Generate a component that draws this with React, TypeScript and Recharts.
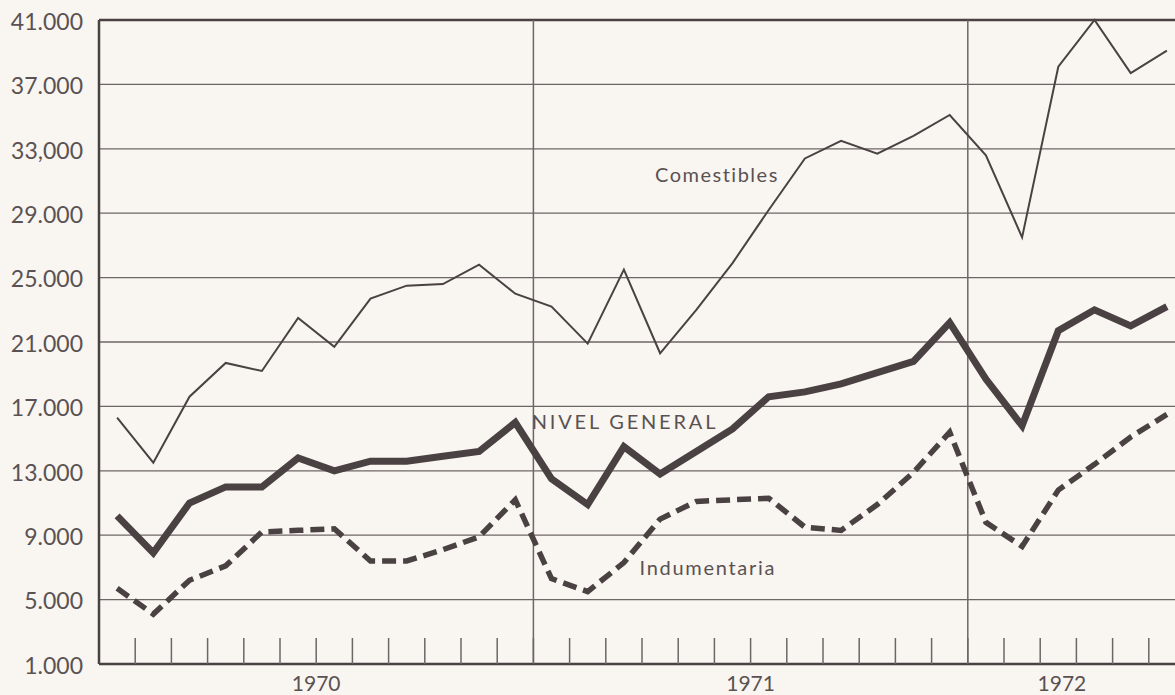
import React from "react"
import {
  CartesianGrid,
  Line,
  LineChart,
  ReferenceDot,
  ReferenceLine,
  XAxis,
  YAxis,
} from "recharts"

// monthly values, Jan 1970 .. Jun 1972
const comestibles = [
  16300, 13500, 17600, 19700, 19200, 22500, 20700, 23700, 24500, 24600, 25800, 24000,
  23200, 20900, 25500, 20300, 23000, 25900, 29200, 32400, 33500, 32700, 33800, 35100,
  32600, 27500, 38100, 41000, 37700, 39100,
]
const nivelGeneral = [
  10200, 7900, 11000, 12000, 12000, 13800, 13000, 13600, 13600, 13900, 14200, 16000,
  12500, 10900, 14500, 12800, 14200, 15600, 17600, 17900, 18400, 19100, 19800, 22200,
  18700, 15800, 21700, 23000, 22000, 23200,
]
const indumentaria = [
  5700, 4100, 6200, 7100, 9200, 9300, 9400, 7400, 7400, 8100, 8900, 11200,
  6300, 5500, 7300, 10000, 11100, 11200, 11300, 9500, 9300, 10900, 12900, 15400,
  9800, 8300, 11800, 13400, 15100, 16500,
]

const yTicks = [1000, 5000, 9000, 13000, 17000, 21000, 25000, 29000, 33000, 37000, 41000]
const yTickLabels = ["1.000", "5.000", "9.000", "13.000", "17.000", "21.000", "25.000", "29.000", "33,000", "37.000", "41.000"]

const yearLabels = ["1970", "1971", "1972"]
const yearTicks = [6, 18, 26.6]
const yearBreaks = [12, 24]
const monthTicks = Array.from({ length: 29 }, (_, i) => i + 1)

const data = comestibles.map((c, i) => ({
  m: i + 0.5,
  comestibles: c,
  nivel: nivelGeneral[i],
  indumentaria: indumentaria[i],
}))

const ink = "#4a4242"
const gridColor = "#6e6666"
const textColor = "#5a5252"
const font = "Lato, 'Open Sans', sans-serif"

const MonthTick = (props: any) => {
  const { x, y } = props
  return <line x1={x} x2={x} y1={y} y2={y - 26} stroke={gridColor} strokeWidth={1.5} />
}

const YearTick = (props: any) => {
  const { x, y, payload } = props
  const label = yearLabels[yearTicks.indexOf(payload.value)]
  return (
    <text x={x} y={y + 26} textAnchor="middle" fill={textColor} fontSize={21} fontFamily={font}>
      {label}
    </text>
  )
}

const YTick = (props: any) => {
  const { x, y, payload } = props
  const label = yTickLabels[yTicks.indexOf(payload.value)]
  return (
    <text x={x} y={y + 4} textAnchor="end" dominantBaseline="middle" fill={textColor} fontSize={23} fontFamily={font}>
      {label}
    </text>
  )
}

const seriesLabel = (text: string, spacing: number) => (props: any) => {
  const { viewBox } = props
  const cx = viewBox.x + viewBox.width / 2
  const cy = viewBox.y + viewBox.height / 2
  return (
    <text x={cx} y={cy} textAnchor="middle" dominantBaseline="middle" fill={textColor} fontSize={20} fontFamily={font} letterSpacing={spacing}>
      {text}
    </text>
  )
}

export default function App() {
  return (
    <div style={{ position: "absolute", left: 0, top: 0, width: 1175, height: 695, overflow: "hidden", background: "#f9f5f1" }}>
      <LineChart width={1200} height={695} data={data} margin={{ top: 20, right: 15, left: 0, bottom: 0 }}>
        <CartesianGrid vertical={false} stroke={gridColor} strokeWidth={1.3} />
        <XAxis
          dataKey="m"
          type="number"
          domain={[0, 30]}
          allowDataOverflow
          ticks={monthTicks}
          interval={0}
          height={1}
          tickSize={0}
          tickMargin={0}
          tickLine={false}
          tick={<MonthTick />}
          axisLine={{ stroke: ink, strokeWidth: 2.5 }}
        />
        <XAxis
          xAxisId="yr"
          dataKey="m"
          type="number"
          domain={[0, 30]}
          allowDataOverflow
          ticks={yearTicks}
          interval={0}
          height={30}
          tickSize={0}
          tickMargin={0}
          tickLine={false}
          axisLine={false}
          tick={<YearTick />}
        />
        <YAxis
          type="number"
          domain={[1000, 41000]}
          ticks={yTicks}
          interval={0}
          width={99}
          tickSize={0}
          tickMargin={16}
          tickLine={false}
          tick={<YTick />}
          axisLine={{ stroke: ink, strokeWidth: 2.5 }}
        />
        <ReferenceLine y={41000} stroke={ink} strokeWidth={2.5} />
        {yearBreaks.map((x) => (
          <ReferenceLine key={x} x={x} stroke={gridColor} strokeWidth={1.5} />
        ))}
        <Line
          dataKey="comestibles"
          type="linear"
          stroke={ink}
          strokeWidth={2}
          dot={false}
          isAnimationActive={false}
        />
        <Line
          dataKey="nivel"
          type="linear"
          stroke={ink}
          strokeWidth={7}
          strokeLinejoin="miter"
          dot={false}
          isAnimationActive={false}
        />
        <Line
          dataKey="indumentaria"
          type="linear"
          stroke={ink}
          strokeWidth={5.5}
          strokeDasharray="14 7"
          dot={false}
          isAnimationActive={false}
        />
        <ReferenceDot x={17.07} y={31270} r={1} fill="none" stroke="none" label={{ content: seriesLabel("Comestibles", 1.5) }} />
        <ReferenceDot x={14.53} y={15880} r={1} fill="none" stroke="none" label={{ content: seriesLabel("NIVEL GENERAL", 2.8) }} />
        <ReferenceDot x={16.82} y={6850} r={1} fill="none" stroke="none" label={{ content: seriesLabel("Indumentaria", 1.7) }} />
      </LineChart>
    </div>
  )
}
